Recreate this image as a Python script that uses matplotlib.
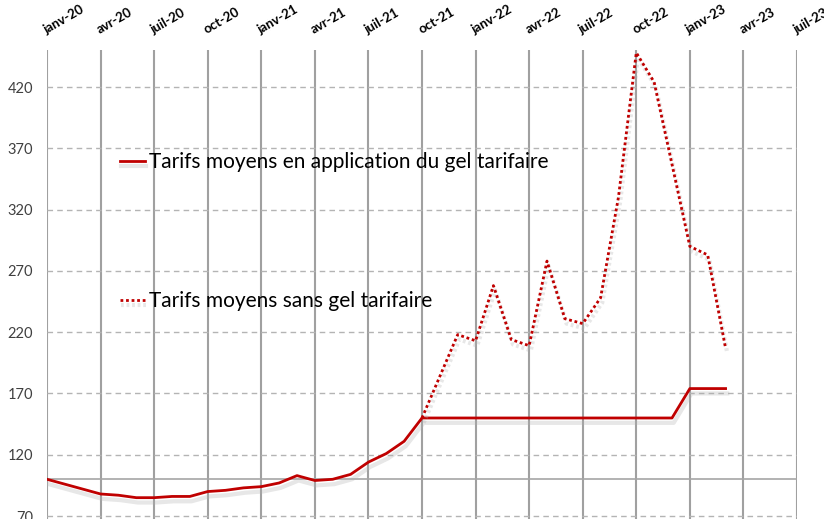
import matplotlib.pyplot as plt
import matplotlib.patheffects as pe
import numpy as np

plt.rcParams['font.family'] = ['Lato', 'DejaVu Sans']

# monthly index: 0 = janv-20 ... 42 = juil-23
quarter_labels = ["janv-20", "avr-20", "juil-20", "oct-20",
                  "janv-21", "avr-21", "juil-21", "oct-21",
                  "janv-22", "avr-22", "juil-22", "oct-22",
                  "janv-23", "avr-23", "juil-23"]

# tarifs with the freeze, janv-20 to mars-23
gel = [100, 96, 92, 88, 87, 85, 85, 86, 86, 90, 91, 93, 94,
       97, 103, 99, 100, 104, 114, 121, 131,
       150, 150, 150, 150, 150, 150, 150, 150, 150, 150, 150,
       150, 150, 150, 150, 174, 174, 174]
# tarifs without the freeze, from oct-21 to mars-23
sans_gel = [150, 184, 218, 213, 258, 214, 209, 278, 231, 227, 248,
            330, 448, 424, 357, 290, 283, 207]
start_sans_gel = 21

x_gel = np.arange(len(gel))
x_sans = np.arange(start_sans_gel, start_sans_gel + len(sans_gel))

fig = plt.figure(figsize=(8.24, 5.19), dpi=100)
ax = fig.add_axes([47 / 824, 0, 750 / 824, 469 / 519])

red = "#C00000"
shadow = [pe.SimpleLineShadow(offset=(1.2, -3.5), shadow_color="#b0b0b0", alpha=0.3, linewidth=3),
          pe.Normal()]

ax.plot(x_gel, gel, color=red, lw=2, solid_joinstyle='round',
        label="Tarifs moyens en application du gel tarifaire", path_effects=shadow)
ax.plot(x_sans, sans_gel, color=red, lw=2, linestyle=(0, (1, 1)),
        label="Tarifs moyens sans gel tarifaire", path_effects=shadow)

ax.axhline(100, color="#a6a6a6", lw=1.2, zorder=1)

ax.set_xlim(0, 42)
ax.set_ylim(67.6, 450.2)
ax.set_xticks(np.arange(0, 43, 3))
ax.set_xticklabels(quarter_labels, rotation=30, ha='left', va='bottom',
                   rotation_mode='anchor', fontsize=9.5, fontweight='bold')
ax.set_yticks(np.arange(70, 421, 50))
ax.tick_params(axis='x', top=True, bottom=False, labeltop=True, labelbottom=False,
               length=0, pad=10)
ax.tick_params(axis='y', length=0, pad=10, labelsize=10.5, labelcolor="#404040")

ax.grid(axis='x', color="#a0a0a0", lw=1.5, linestyle='-')
ax.grid(axis='y', color="#b4b4b4", lw=1, linestyle=(0, (4, 3)))
ax.set_axisbelow(True)
for s in ax.spines.values():
    s.set_visible(False)

ax.legend(loc='upper left', bbox_to_anchor=(0.072, 0.822), frameon=False,
          fontsize=15, labelspacing=5.7, handlelength=1.2, handletextpad=0.2)

fig.savefig("out.png", dpi=100)
